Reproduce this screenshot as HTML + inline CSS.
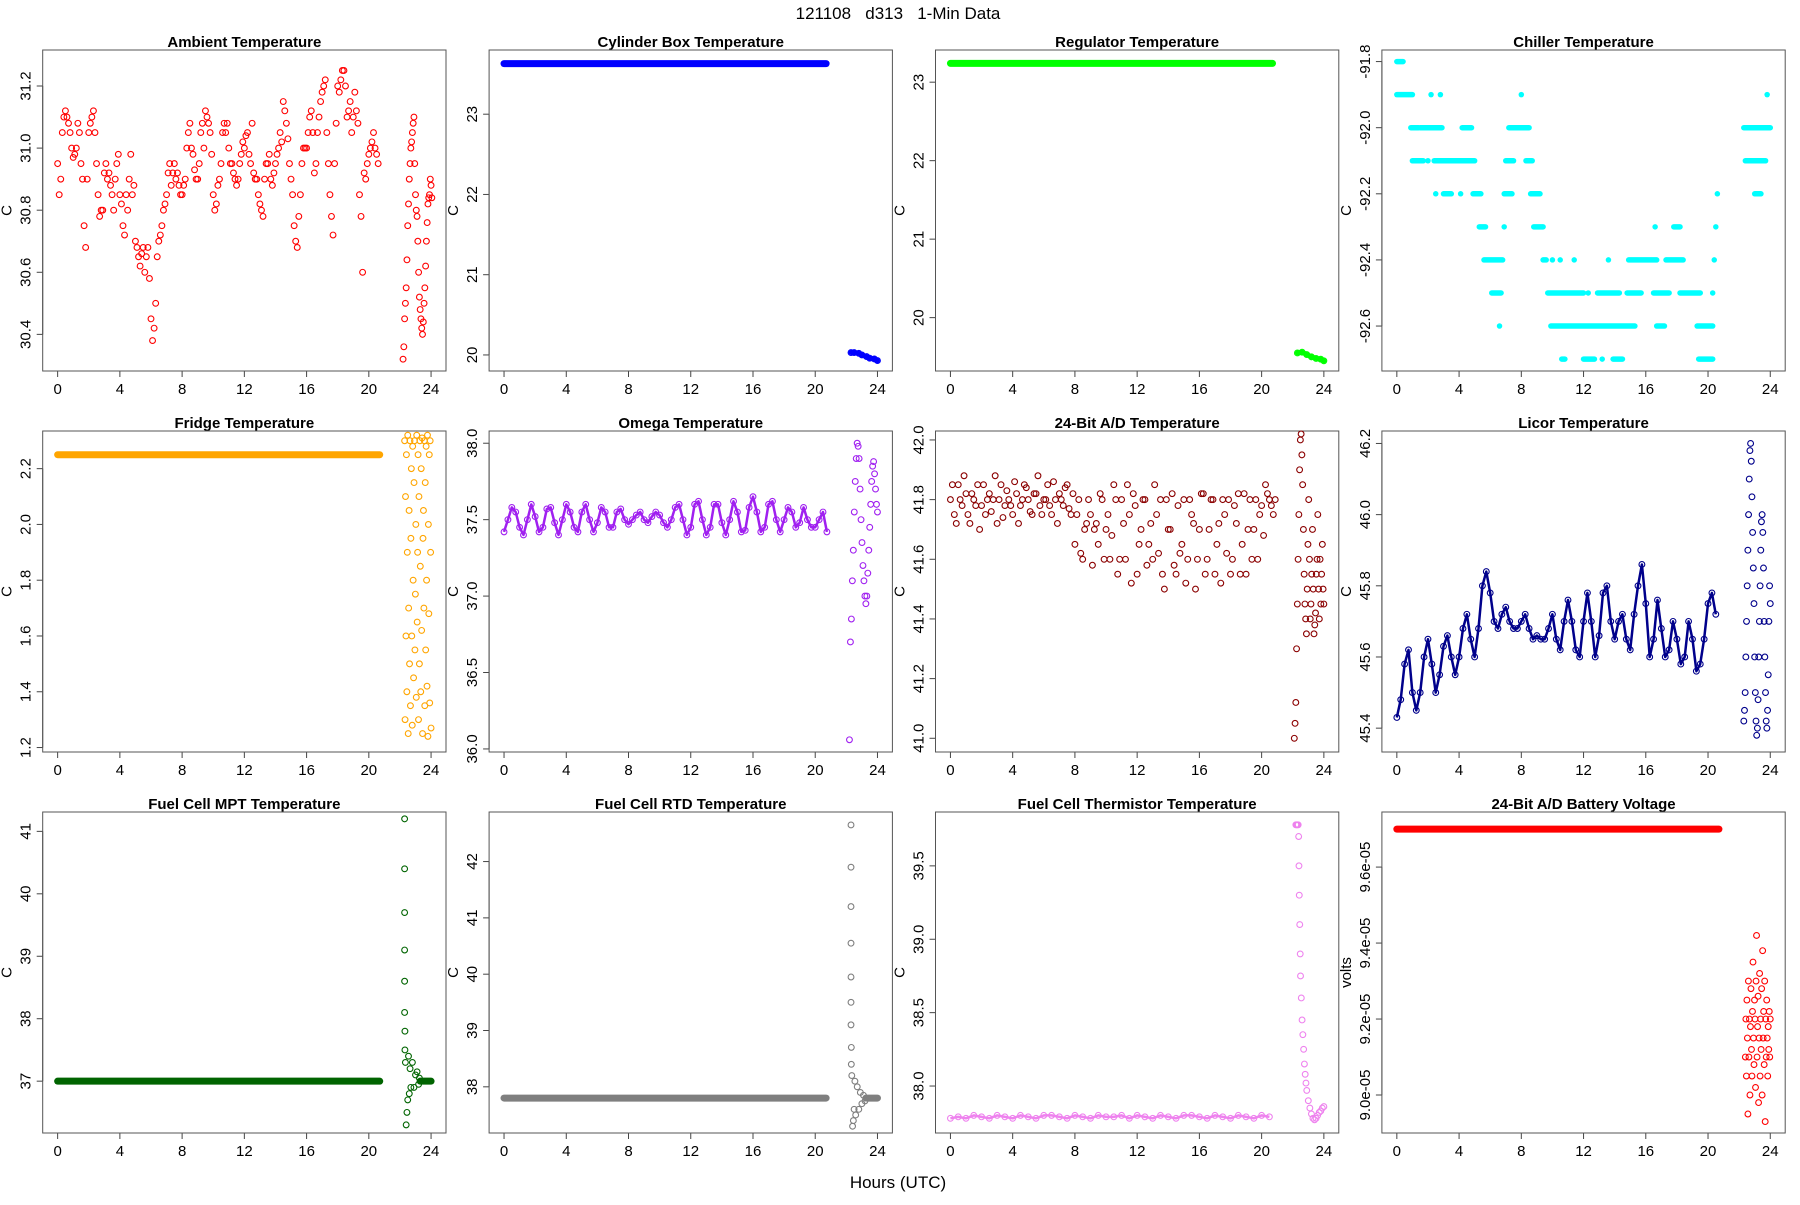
<!DOCTYPE html>
<html><head><meta charset="utf-8"><title>121108 d313 1-Min Data</title>
<style>
html,body{margin:0;padding:0;background:#fff;}
svg text{font-family:"Liberation Sans",Arial,sans-serif;fill:#000;}
</style></head>
<body>
<svg id="chart" width="1800" height="1200" viewBox="0 0 1800 1200" xmlns="http://www.w3.org/2000/svg">
<rect width="1800" height="1200" fill="#fff"/>
<text x="898" y="19" font-size="17" text-anchor="middle">121108 &#160; d313 &#160; 1-Min Data</text>
<text x="898" y="1188" font-size="17" text-anchor="middle">Hours (UTC)</text>
</svg>
<script>
// ---------- data ----------
const xTicks = [0,4,8,12,16,20,24];
const ambientStep = 0.2;
const ambientValues = [30.95,30.9,31.1,31.1,31.05,30.97,31.0,31.05,30.9,30.68,31.05,31.1,31.05,30.85,30.8,30.92,30.9,30.88,30.8,30.95,30.85,30.75,30.85,30.9,30.85,30.7,30.65,30.66,30.6,30.68,30.45,30.42,30.65,30.72,30.8,30.85,30.95,30.92,30.9,30.88,30.85,30.9,31.05,31.0,30.93,30.9,31.05,31.0,31.1,31.05,30.85,30.82,30.9,31.05,31.05,31.0,30.95,30.9,30.9,30.98,31.0,31.05,30.95,30.92,30.9,30.82,30.78,30.95,30.98,30.88,30.95,31.0,31.02,31.12,31.03,30.9,30.75,30.68,30.85,31.0,31.0,31.1,31.05,30.95,31.1,31.18,31.22,30.95,30.78,30.95,31.2,31.22,31.25,31.1,31.15,31.1,31.12,30.85,30.6,30.9,30.98,31.02,31.0,30.95];
const ambientValuesB = [30.85,31.05,31.12,31.08,31.0,30.98,31.08,30.95,30.75,30.9,31.08,31.12,30.95,30.78,30.8,30.95,30.92,30.85,30.9,30.98,30.82,30.72,30.8,30.98,30.88,30.68,30.62,30.68,30.65,30.58,30.38,30.5,30.7,30.75,30.82,30.92,30.88,30.95,30.92,30.85,30.88,31.0,31.08,30.98,30.9,30.95,31.08,31.12,31.08,30.98,30.8,30.88,30.95,31.08,31.08,30.95,30.92,30.88,30.95,31.02,31.04,30.98,31.08,30.9,30.85,30.8,30.9,30.95,30.9,30.92,30.98,31.05,31.15,31.08,30.95,30.85,30.7,30.78,30.95,31.0,31.05,31.12,30.92,31.05,31.15,31.2,31.05,30.85,30.72,31.08,31.18,31.25,31.2,31.12,31.05,31.18,31.08,30.78,30.92,30.95,31.0,31.05,30.98];
const ambientTailHours = [22.2,22.3,22.4,22.5,22.6,22.7,22.8,22.9,23.0,23.1,23.2,23.3,23.4,23.5,23.6,23.7,23.8,23.9,24.0];
const ambientTailValues = [30.32,30.45,30.55,30.75,30.9,31.0,31.05,31.1,30.85,30.78,30.6,30.48,30.42,30.44,30.55,30.7,30.82,30.85,30.88];
const ambientTailValuesB = [30.36,30.5,30.64,30.82,30.95,31.02,31.08,30.95,30.8,30.7,30.52,30.45,30.4,30.5,30.62,30.76,30.84,30.9,30.84];

const cylinderFlat = [0,20.7,23.63];
const cylinderTailHours = [22.3,22.5,22.8,23.0,23.3,23.5,23.8,24.0];
const cylinderTailValues = [20.03,20.03,20.02,20.0,19.98,19.96,19.95,19.93];

const regulatorFlat = [0,20.7,23.24];
const regulatorTailHours = [22.3,22.6,22.9,23.2,23.5,23.8,24.0];
const regulatorTailValues = [19.55,19.56,19.53,19.5,19.48,19.47,19.45];

const chillerLevels = [-91.8,-91.9,-91.9,-91.9,-91.9,-91.9,-92.0,-92.0,-92.0,-92.0,-92.0,-92.1,-92.1,-92.1,-92.1,-92.1,-92.1,-92.2,-92.2,-92.2,-92.2,-92.2,-92.2,-92.2,-92.2,-92.3,-92.3,-92.3,-92.3,-92.3,-92.3,-92.4,-92.4,-92.4,-92.4,-92.4,-92.4,-92.4,-92.4,-92.4,-92.5,-92.5,-92.5,-92.5,-92.5,-92.5,-92.5,-92.5,-92.6,-92.6,-92.6,-92.6,-92.7,-92.7,-92.7,-92.7,-92.7];
const chillerStarts = [0,0,2.2,2.8,8.0,23.8,0.9,1.5,4.2,7.2,22.3,1.0,2.0,2.4,7.0,8.3,22.4,2.5,3.0,4.1,4.9,6.9,8.6,20.6,23.0,5.3,6.9,8.8,16.6,17.8,20.5,5.6,9.4,10.0,10.5,11.4,13.6,14.9,17.3,20.4,6.1,9.7,12.3,12.9,14.8,16.5,18.2,20.3,6.6,9.9,16.7,19.3,10.6,12.0,13.2,13.9,19.4];
const chillerEnds   = [0.4,1.0,2.2,2.8,8.0,23.8,1.4,2.9,4.8,8.5,24.0,1.7,2.0,5.0,7.5,8.7,23.7,2.5,3.5,4.1,5.4,7.4,9.2,20.6,23.4,5.7,6.9,9.4,16.6,18.2,20.5,6.8,9.6,10.0,10.5,11.4,13.6,16.7,18.4,20.4,6.7,12.0,12.3,14.3,15.7,17.5,19.5,20.3,6.6,15.3,17.2,20.3,10.8,12.7,13.2,14.5,20.3];

const fridgeFlat = [0,20.7,2.25];
const fridgeTailRange = [22.3,24.0];
const fridgeTailValues = [2.3,1.3,2.1,1.6,2.25,1.4,1.9,2.32,1.25,1.7,2.05,1.5,2.3,1.35,1.95,2.2,1.6,1.28,2.28,1.8,1.45,2.15,2.3,1.55,1.75,2.0,1.38,2.32,1.65,1.9,2.25,1.3,2.1,1.5,2.3,1.85,1.4,2.2,1.62,2.31,1.25,1.95,2.05,1.7,2.3,1.35,2.15,1.55,2.28,1.8,1.42,2.32,1.24,2.0,1.68,2.25,1.36,2.3,1.9,1.27];

const omegaStep = 0.25;
const omegaValues = [37.42,37.5,37.58,37.55,37.45,37.4,37.5,37.6,37.52,37.42,37.45,37.57,37.58,37.48,37.4,37.5,37.6,37.55,37.45,37.42,37.55,37.6,37.5,37.42,37.48,37.58,37.55,37.45,37.45,37.55,37.57,37.5,37.47,37.5,37.53,37.55,37.5,37.48,37.52,37.55,37.53,37.48,37.45,37.5,37.58,37.6,37.5,37.4,37.45,37.6,37.62,37.5,37.4,37.45,37.6,37.6,37.48,37.4,37.5,37.62,37.55,37.42,37.43,37.58,37.65,37.55,37.42,37.45,37.6,37.62,37.5,37.42,37.5,37.58,37.55,37.45,37.48,37.58,37.5,37.45,37.45,37.5,37.55,37.42];
const omegaTailRange = [22.2,24.0];
const omegaTailValues = [36.06,36.7,36.85,37.1,37.3,37.55,37.75,37.9,38.0,37.98,37.9,37.7,37.5,37.35,37.2,37.1,37.0,36.95,37.0,37.15,37.3,37.45,37.6,37.75,37.85,37.88,37.8,37.7,37.6,37.55];

const adStep = 0.25;
const adValues = [41.8,41.75,41.85,41.78,41.82,41.72,41.8,41.85,41.78,41.75,41.82,41.8,41.72,41.85,41.78,41.8,41.75,41.82,41.78,41.85,41.8,41.75,41.82,41.78,41.8,41.85,41.75,41.8,41.82,41.78,41.85,41.75,41.65,41.8,41.6,41.72,41.75,41.7,41.65,41.8,41.7,41.6,41.85,41.55,41.8,41.6,41.75,41.82,41.55,41.7,41.8,41.65,41.6,41.75,41.8,41.5,41.7,41.82,41.55,41.62,41.8,41.6,41.75,41.5,41.7,41.82,41.6,41.8,41.55,41.72,41.8,41.62,41.55,41.78,41.82,41.65,41.55,41.8,41.7,41.6,41.78,41.85,41.8,41.75];
const adValuesB = [41.85,41.72,41.8,41.88,41.75,41.82,41.78,41.7,41.85,41.8,41.76,41.88,41.8,41.74,41.83,41.78,41.86,41.72,41.8,41.84,41.76,41.82,41.88,41.75,41.8,41.78,41.86,41.72,41.8,41.84,41.77,41.82,41.75,41.62,41.7,41.8,41.58,41.72,41.82,41.6,41.75,41.68,41.8,41.6,41.72,41.85,41.52,41.78,41.65,41.8,41.58,41.72,41.85,41.62,41.55,41.8,41.7,41.58,41.78,41.65,41.52,41.8,41.72,41.6,41.82,41.55,41.7,41.8,41.65,41.52,41.75,41.8,41.6,41.72,41.55,41.82,41.7,41.6,41.8,41.75,41.68,41.82,41.78,41.8];
const adTailRange = [22.1,24.0];
const adTailValues = [41.0,41.05,41.12,41.3,41.45,41.6,41.75,41.9,42.0,42.02,41.95,41.85,41.7,41.55,41.45,41.4,41.35,41.5,41.65,41.8,41.6,41.4,41.45,41.55,41.7,41.5,41.35,41.38,41.42,41.55,41.6,41.75,41.5,41.4,41.6,41.45,41.55,41.65,41.5,41.45];

const licorStep = 0.25;
const licorValues = [45.43,45.48,45.58,45.62,45.5,45.45,45.5,45.6,45.65,45.58,45.5,45.55,45.63,45.66,45.6,45.55,45.6,45.68,45.72,45.65,45.6,45.68,45.8,45.84,45.78,45.7,45.68,45.72,45.74,45.7,45.68,45.68,45.7,45.72,45.68,45.65,45.66,45.65,45.65,45.68,45.72,45.65,45.62,45.7,45.76,45.7,45.62,45.6,45.7,45.78,45.7,45.6,45.66,45.78,45.8,45.7,45.65,45.7,45.72,45.65,45.62,45.72,45.8,45.86,45.75,45.6,45.65,45.76,45.68,45.6,45.62,45.7,45.65,45.58,45.6,45.7,45.65,45.56,45.58,45.65,45.75,45.78,45.72];
const licorTailRange = [22.3,24.0];
const licorTailValues = [45.42,45.45,45.5,45.6,45.7,45.8,45.9,46.0,46.1,46.18,46.2,46.15,46.05,45.95,45.85,45.75,45.6,45.5,45.42,45.38,45.4,45.48,45.6,45.7,45.8,45.9,45.98,46.0,45.95,45.85,45.7,45.6,45.5,45.42,45.4,45.45,45.55,45.7,45.8,45.75];

const mptFlat = [0,20.7,37.0];
const mptEndFlat = [23.3,24.0,37.0];
const mptTailHours = [22.3,22.3,22.3,22.3,22.3,22.3,22.32,22.32,22.35,22.4,22.45,22.5,22.55,22.6,22.65,22.7,22.8,22.9,23.0,23.1,23.2,23.25];
const mptTailValues = [41.2,40.4,39.7,39.1,38.6,38.1,37.8,37.5,37.3,36.3,36.5,36.7,37.4,36.8,37.2,36.9,37.3,36.9,37.1,37.15,36.95,37.05];

const rtdFlat = [0,20.7,37.8];
const rtdEndFlat = [23.3,24.0,37.8];
const rtdTailHours = [22.3,22.3,22.3,22.3,22.3,22.3,22.3,22.32,22.32,22.35,22.4,22.45,22.5,22.55,22.6,22.7,22.8,22.9,23.0,23.1,23.2,23.25];
const rtdTailValues = [42.65,41.9,41.2,40.55,39.95,39.5,39.1,38.7,38.4,38.2,37.3,37.4,37.6,38.1,37.5,38.0,37.6,37.9,37.7,37.85,37.75,37.8];

const thermStep = 0.5;
const thermValues = [37.78,37.79,37.78,37.8,37.79,37.78,37.8,37.79,37.78,37.8,37.79,37.78,37.8,37.8,37.79,37.78,37.8,37.79,37.78,37.8,37.79,37.79,37.8,37.78,37.8,37.79,37.78,37.8,37.79,37.78,37.8,37.8,37.79,37.78,37.8,37.79,37.78,37.8,37.79,37.78,37.8,37.79];
const thermTailHours = [22.2,22.25,22.3,22.35,22.38,22.4,22.42,22.45,22.48,22.5,22.55,22.6,22.65,22.7,22.75,22.8,22.85,22.9,23.0,23.1,23.2,23.3,23.4,23.5,23.6,23.7,23.8,23.9,24.0];
const thermTailValues = [39.78,39.78,39.78,39.78,39.7,39.5,39.3,39.1,38.9,38.75,38.6,38.45,38.35,38.25,38.15,38.08,38.02,37.97,37.9,37.85,37.81,37.78,37.77,37.78,37.8,37.82,37.83,37.85,37.86];

const batteryFlat = [0,20.7,9.7];
const batteryTailRange = [22.4,24.0];
const batteryTailValues = [9.1,9.2,9.05,9.25,9.15,8.95,9.3,9.1,9.2,9.0,9.18,9.28,9.12,9.05,9.22,9.35,9.15,9.08,9.25,9.2,9.02,9.3,9.42,9.1,9.18,9.26,8.98,9.15,9.32,9.05,9.2,9.12,9.28,9.0,9.38,9.15,9.22,9.08,9.3,8.93,9.2,9.1,9.25,9.15,9.05,9.18,9.12,9.22,9.1,9.2];

// ---------- panel config ----------
const panels = [
 {name:'ambient',title:'Ambient Temperature',yl:'C',col:0,row:0,color:'#ff0000',dom:[30.282,31.316],ticks:[30.4,30.6,30.8,31.0,31.2],labels:['30.4','30.6','30.8','31.0','31.2'],
  even:[{start:0,step:ambientStep,values:ambientValues,line:false},{start:0.1,step:ambientStep,values:ambientValuesB,line:false}],
  pts:[{h:ambientTailHours,v:ambientTailValues},{h:ambientTailHours.map(h=>h+0.05),v:ambientTailValuesB}]},
 {name:'cylinder-box',title:'Cylinder Box Temperature',yl:'C',col:1,row:0,color:'#0000ff',dom:[19.80,23.80],ticks:[20,21,22,23],labels:['20','21','22','23'],
  flat:[cylinderFlat],pts:[{h:cylinderTailHours,v:cylinderTailValues}],tailLine:true},
 {name:'regulator',title:'Regulator Temperature',yl:'C',col:2,row:0,color:'#00ff00',dom:[19.32,23.41],ticks:[20,21,22,23],labels:['20','21','22','23'],
  flat:[regulatorFlat],pts:[{h:regulatorTailHours,v:regulatorTailValues}],tailLine:true},
 {name:'chiller',title:'Chiller Temperature',yl:'C',col:3,row:0,color:'#00ffff',dom:[-92.736,-91.765],ticks:[-92.6,-92.4,-92.2,-92.0,-91.8],labels:['-92.6','-92.4','-92.2','-92.0','-91.8'],
  ranges:{s:chillerStarts,e:chillerEnds,v:chillerLevels}},
 {name:'fridge',title:'Fridge Temperature',yl:'C',col:0,row:1,color:'#ffa500',dom:[1.184,2.335],ticks:[1.2,1.4,1.6,1.8,2.0,2.2],labels:['1.2','1.4','1.6','1.8','2.0','2.2'],
  flat:[fridgeFlat],spread:[{r:fridgeTailRange,v:fridgeTailValues}]},
 {name:'omega',title:'Omega Temperature',yl:'C',col:1,row:1,color:'#a020f0',dom:[35.98,38.08],ticks:[36.0,36.5,37.0,37.5,38.0],labels:['36.0','36.5','37.0','37.5','38.0'],
  even:[{start:0,step:omegaStep,values:omegaValues,line:true}],spread:[{r:omegaTailRange,v:omegaTailValues}]},
 {name:'ad-24bit',title:'24-Bit A/D Temperature',yl:'C',col:2,row:1,color:'#8b0000',dom:[40.954,42.03],ticks:[41.0,41.2,41.4,41.6,41.8,42.0],labels:['41.0','41.2','41.4','41.6','41.8','42.0'],
  even:[{start:0,step:adStep,values:adValues,line:false},{start:0.125,step:adStep,values:adValuesB,line:false}],spread:[{r:adTailRange,v:adTailValues}]},
 {name:'licor',title:'Licor Temperature',yl:'C',col:3,row:1,color:'#00008b',dom:[45.333,46.235],ticks:[45.4,45.6,45.8,46.0,46.2],labels:['45.4','45.6','45.8','46.0','46.2'],
  even:[{start:0,step:licorStep,values:licorValues,line:true}],spread:[{r:licorTailRange,v:licorTailValues}]},
 {name:'fuel-cell-mpt',title:'Fuel Cell MPT Temperature',yl:'C',col:0,row:2,color:'#006400',dom:[36.17,41.31],ticks:[37,38,39,40,41],labels:['37','38','39','40','41'],
  flat:[mptFlat,mptEndFlat],pts:[{h:mptTailHours,v:mptTailValues}]},
 {name:'fuel-cell-rtd',title:'Fuel Cell RTD Temperature',yl:'C',col:1,row:2,color:'#7f7f7f',dom:[37.18,42.88],ticks:[38,39,40,41,42],labels:['38','39','40','41','42'],
  flat:[rtdFlat,rtdEndFlat],pts:[{h:rtdTailHours,v:rtdTailValues}]},
 {name:'fuel-cell-thermistor',title:'Fuel Cell Thermistor Temperature',yl:'C',col:2,row:2,color:'#ee82ee',dom:[37.68,39.867],ticks:[38.0,38.5,39.0,39.5],labels:['38.0','38.5','39.0','39.5'],
  even:[{start:0,step:thermStep,values:thermValues,line:true}],pts:[{h:thermTailHours,v:thermTailValues}]},
 {name:'battery-voltage',title:'24-Bit A/D Battery Voltage',yl:'volts',col:3,row:2,color:'#ff0000',dom:[8.90,9.745],ticks:[9.0,9.2,9.4,9.6],labels:['9.0e-05','9.2e-05','9.4e-05','9.6e-05'],
  flat:[batteryFlat],spread:[{r:batteryTailRange,v:batteryTailValues}]}
];

// ---------- drawing ----------
const NS='http://www.w3.org/2000/svg';
const svg=document.getElementById('chart');
const BOXW=403.3, BOXH=321, X0=42.7, DX=446.4, Y0=50, DY=381;
const XMIN=-0.96, XMAX=24.96;
function mk(tag,attrs,parent){const e=document.createElementNS(NS,tag);for(const k in attrs)e.setAttribute(k,attrs[k]);parent.appendChild(e);return e;}

panels.forEach(p=>{
  const L=X0+p.col*DX, T=Y0+p.row*DY;
  const xs=h=>L+(h-XMIN)/(XMAX-XMIN)*BOXW;
  const ys=v=>T+BOXH-(v-p.dom[0])/(p.dom[1]-p.dom[0])*BOXH;
  const g=mk('g',{},svg);
  
  

  const title=mk('text',{x:L+BOXW/2,y:T-3,'font-size':15,'font-weight':'bold','text-anchor':'middle'},g);
  title.textContent=p.title;
  
  

  const yl=mk('text',{x:0,y:0,'font-size':15,'text-anchor':'middle',transform:`translate(${L-31},${T+BOXH/2}) rotate(-90)`},g);
  yl.textContent=p.yl;
  
  

  const xa=mk('g',{},g);
  
  
  mk('line',{x1:xs(xTicks[0]),x2:xs(xTicks[xTicks.length-1]),y1:T+BOXH,y2:T+BOXH,stroke:'#444','stroke-width':1},xa);
  xTicks.forEach(t=>{
    mk('line',{x1:xs(t),x2:xs(t),y1:T+BOXH,y2:T+BOXH+6,stroke:'#444','stroke-width':1},xa);
    const tl=mk('text',{x:xs(t),y:T+BOXH+23,'font-size':15,'text-anchor':'middle'},xa);
    tl.textContent=String(t);
    
    
  });
  const ya=mk('g',{},g);
  
  
  p.ticks.forEach((t,i)=>{
    mk('line',{x1:L-6,x2:L,y1:ys(t),y2:ys(t),stroke:'#444','stroke-width':1},ya);
    const tl=mk('text',{x:0,y:0,'font-size':15,'text-anchor':'middle',transform:`translate(${L-12},${ys(t)}) rotate(-90)`},ya);
    tl.textContent=p.labels[i];
    
    
  });
  mk('line',{x1:L,x2:L,y1:ys(p.ticks[0]),y2:ys(p.ticks[p.ticks.length-1]),stroke:'#444','stroke-width':1},ya);

  const box=mk('rect',{x:L,y:T,width:BOXW,height:BOXH,fill:'none',stroke:'#555','stroke-width':1},g);
  
  

  const sg=mk('g',{},g);
  
  
  const circ=(h,v)=>{const c=mk('circle',{cx:xs(h),cy:ys(v),r:2.9,fill:'none',stroke:p.color,'stroke-width':1.1},sg);
    
    };

  (p.flat||[]).forEach(f=>{
    const ln=mk('line',{x1:xs(f[0]),x2:xs(f[1]),y1:ys(f[2]),y2:ys(f[2]),stroke:p.color,'stroke-width':7,'stroke-linecap':'round'},sg);
    
    
  });
  if(p.ranges){
    p.ranges.v.forEach((v,i)=>{
      const ln=mk('line',{x1:xs(p.ranges.s[i]),x2:xs(p.ranges.e[i]),y1:ys(v),y2:ys(v),stroke:p.color,'stroke-width':5.5,'stroke-linecap':'round'},sg);
      
      
    });
  }
  (p.even||[]).forEach(s=>{
    if(s.line){
      const pts=s.values.map((v,i)=>xs(s.start+i*s.step).toFixed(1)+','+ys(v).toFixed(1)).join(' ');
      const pl=mk('polyline',{points:pts,fill:'none',stroke:p.color,'stroke-width':2.5,'stroke-linejoin':'round'},sg);
      
      
    }
    s.values.forEach((v,i)=>circ(s.start+i*s.step,v));
  });
  (p.spread||[]).forEach(s=>{
    const n=s.v.length;
    s.v.forEach((v,i)=>circ(s.r[0]+(s.r[1]-s.r[0])*i/(n-1),v));
  });
  (p.pts||[]).forEach(s=>{
    if(p.tailLine){
      const pts=s.v.map((v,i)=>xs(s.h[i]).toFixed(1)+','+ys(v).toFixed(1)).join(' ');
      const pl=mk('polyline',{points:pts,fill:'none',stroke:p.color,'stroke-width':5,'stroke-linejoin':'round','stroke-linecap':'round'},sg);
      
      
    }
    s.v.forEach((v,i)=>circ(s.h[i],v));
  });
});
</script>
</body></html>
